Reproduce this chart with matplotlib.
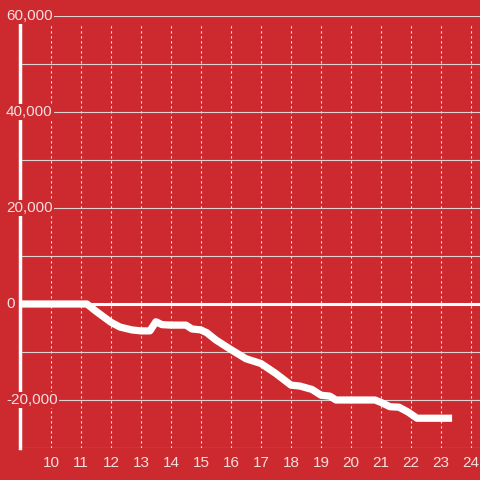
import matplotlib
matplotlib.use("Agg")
import matplotlib.pyplot as plt

hours = [8.97, 11.0, 11.2, 11.5, 12.0, 12.3, 12.7, 13.0, 13.3, 13.5, 13.7, 14.0, 14.5, 14.7,
         15.0, 15.2, 15.5, 16.0, 16.5, 17.0, 17.5, 18.0, 18.3, 18.7, 19.0, 19.3, 19.5, 20.0,
         20.8, 21.0, 21.3, 21.6, 21.9, 22.2, 23.37]
values = [0, 0, 0, -1500, -3800, -4800, -5400, -5600, -5600, -3700, -4300, -4400, -4400, -5200,
          -5400, -6000, -7500, -9500, -11400, -12400, -14500, -16900, -17100, -17800, -19000, -19200, -20000, -20000,
          -20000, -20500, -21400, -21500, -22500, -23800, -23800]
x_ticks = list(range(10, 25))
y_ticks = [-20000, 0, 20000, 40000, 60000]
y_grid = [-30000, -20000, -10000, 0, 10000, 20000, 30000, 40000, 50000, 60000]

BG = '#cc2a2f'
TXT = '#f5dede'
plt.rcParams['font.family'] = ['Liberation Sans', 'DejaVu Sans']

fig = plt.figure(figsize=(4.8, 4.8), dpi=100, facecolor=BG)
ax = fig.add_axes([20/480, 32/480, 460/480, 432/480], facecolor=BG)
ax.set_xlim(8.97, 24.3)
ax.set_ylim(-30000, 60000)
top_val = 58333

for s in ['top', 'right', 'bottom']:
    ax.spines[s].set_visible(False)
ax.spines['left'].set_color('white')
ax.spines['left'].set_linewidth(2.5)
ax.spines['left'].set_bounds(-30000, top_val)

for yv in y_grid:
    if yv == 0:
        ax.axhline(yv, color='white', lw=2.2, zorder=2)
    else:
        ax.axhline(yv, color='#e0d0d0', lw=0.8, zorder=1)
ax.vlines(x_ticks, -30000, top_val, colors='#f0e0e0', linestyles=(0, (2, 2.5)), lw=0.8, zorder=1)

ax.plot(hours, values, color='white', lw=5.2, solid_capstyle='butt', solid_joinstyle='round', zorder=3)

ax.set_xticks(x_ticks)
ax.set_xticklabels([str(h) for h in x_ticks])
ax.tick_params(axis='x', length=0, pad=6, labelsize=11, labelcolor=TXT)
ax.set_yticks([])
for yv in y_ticks:
    label = '0' if yv == 0 else f'{yv:,}'
    ax.text(-14/460, yv, label, transform=ax.get_yaxis_transform(), ha='left', va='center',
            fontsize=11, color=TXT, zorder=5, clip_on=False,
            bbox=dict(facecolor=BG, edgecolor='none', pad=1.0))

fig.savefig('out.png', dpi=100, facecolor=BG)
